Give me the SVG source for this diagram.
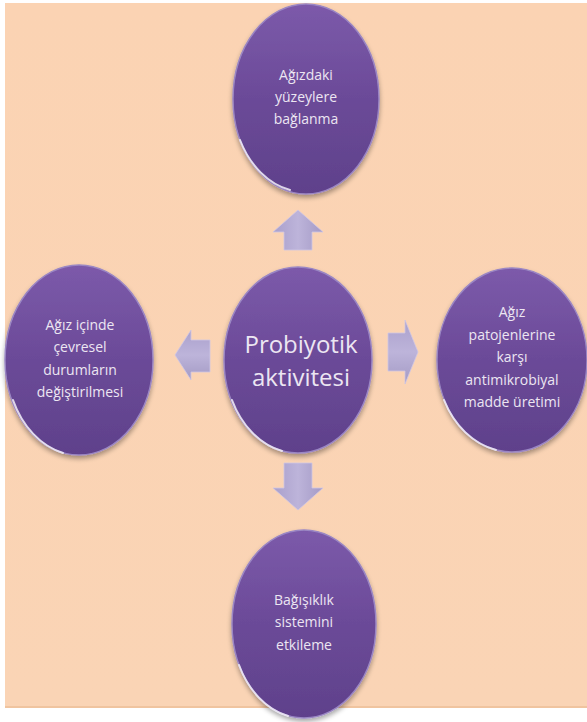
<svg xmlns="http://www.w3.org/2000/svg" width="587" height="722" viewBox="0 0 587 722">
<defs>
<linearGradient id="bg" x1="0" y1="0" x2="0" y2="1">
<stop offset="0" stop-color="#fbd3b3"/>
<stop offset="1" stop-color="#fad4b5"/>
</linearGradient>
<linearGradient id="ball" x1="0" y1="0" x2="0" y2="1">
<stop offset="0" stop-color="#7c5aaa"/>
<stop offset="0.5" stop-color="#6b4a98"/>
<stop offset="1" stop-color="#5f418b"/>
</linearGradient>
<linearGradient id="arrV" x1="0" y1="0" x2="1" y2="0">
<stop offset="0" stop-color="#a99fcb"/>
<stop offset="0.5" stop-color="#bdb4da"/>
<stop offset="1" stop-color="#a49ac6"/>
</linearGradient>
<linearGradient id="arrH" x1="0" y1="0" x2="0" y2="1">
<stop offset="0" stop-color="#aaa0cc"/>
<stop offset="0.5" stop-color="#bdb4da"/>
<stop offset="1" stop-color="#a39ac4"/>
</linearGradient>
<filter id="sh" x="-20%" y="-20%" width="140%" height="140%">
<feGaussianBlur in="SourceAlpha" stdDeviation="2.5"/>
<feOffset dx="0" dy="3"/>
<feComponentTransfer><feFuncA type="linear" slope="0.35"/></feComponentTransfer>
<feMerge><feMergeNode/><feMergeNode in="SourceGraphic"/></feMerge>
</filter>
</defs>
<style>
.ball{fill:url(#ball);stroke:#9a86c4;stroke-width:1.5;filter:url(#sh)}
.rim{fill:none;stroke:#f2eef8;stroke-width:2;stroke-linecap:round;opacity:0.85}
.t{font-family:"Open Sans","Noto Sans",sans-serif;font-size:14px;fill:#ece6f2;text-anchor:middle}
.tb{font-family:"Open Sans","Noto Sans",sans-serif;font-size:24px;fill:#ece6f2;text-anchor:middle}
.av{fill:url(#arrV);stroke:#cfc7e4;stroke-width:0.8}
.ah{fill:url(#arrH);stroke:#cfc7e4;stroke-width:0.8}
</style>
<rect x="0" y="0" width="587" height="722" fill="#ffffff"/>
<rect x="5" y="3" width="582" height="705" fill="url(#bg)"/>
<line x1="5" y1="707" x2="587" y2="707" stroke="#f0c49f" stroke-width="2"/>

<g id="connectors">
<polygon class="av" points="298,210 323,232 312,232 312,250 284,250 284,232 273,232"/>
<polygon class="ah" points="418,352 405,320 405,333 388,333 388,371 405,371 405,384"/>
<polygon class="ah" points="175,355 191,330 191,340 210,340 210,372 191,372 191,380"/>
<polygon class="av" points="298,510 323,488 312,488 312,463 284,463 284,488 273,488"/>
</g>

<g id="node-top">
<ellipse class="ball" cx="306" cy="99" rx="73" ry="95"/>
<path class="rim" d="M240,140 A73,95 0 0 0 290,190"/>
<text class="t" x="306" y="80">Ağızdaki</text>
<text class="t" x="306" y="102">yüzeylere</text>
<text class="t" x="306" y="124">bağlanma</text>
</g>

<g id="node-center">
<ellipse class="ball" cx="298" cy="360" rx="74" ry="93"/>
<path class="rim" d="M232,400 A74,93 0 0 0 282,451"/>
<text class="tb" x="301" y="353">Probiyotik</text>
<text class="tb" x="301" y="386">aktivitesi</text>
</g>

<g id="node-left">
<ellipse class="ball" cx="79" cy="360" rx="74" ry="95"/>
<path class="rim" d="M13,400 A74,95 0 0 0 63,453"/>
<text class="t" x="80" y="330">Ağız içinde</text>
<text class="t" x="80" y="352">çevresel</text>
<text class="t" x="80" y="375">durumların</text>
<text class="t" x="80" y="397">değiştirilmesi</text>
</g>

<g id="node-right">
<ellipse class="ball" cx="512" cy="360" rx="75" ry="92"/>
<path class="rim" d="M444,400 A75,92 0 0 0 496,450"/>
<text class="t" x="512" y="317">Ağız</text>
<text class="t" x="512" y="340">patojenlerine</text>
<text class="t" x="512" y="362">karşı</text>
<text class="t" x="512" y="385">antimikrobiyal</text>
<text class="t" x="512" y="407">madde üretimi</text>
</g>

<g id="node-bottom">
<ellipse class="ball" cx="304" cy="624" rx="72" ry="94"/>
<path class="rim" d="M239,665 A72,94 0 0 0 288,716"/>
<text class="t" x="304" y="605">Bağışıklık</text>
<text class="t" x="304" y="627">sistemini</text>
<text class="t" x="304" y="650">etkileme</text>
</g>
</svg>
